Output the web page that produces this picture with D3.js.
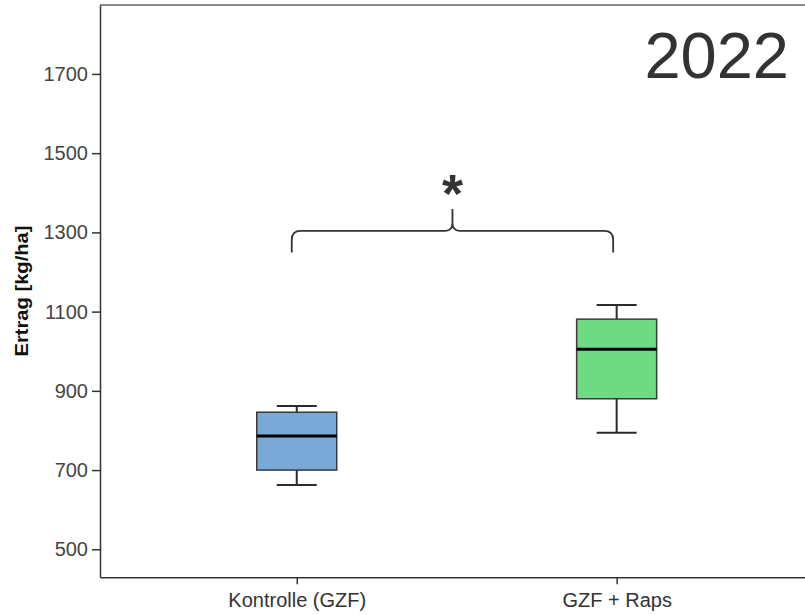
<!DOCTYPE html>
<html>
<head>
<meta charset="utf-8">
<script src="https://cdn.jsdelivr.net/npm/d3@7"></script>
<style>
  html, body { margin: 0; padding: 0; background: #fff; }
  svg { display: block; font-family: "Liberation Sans", Arial, sans-serif; }
</style>
</head>
<body>
<svg id="chart" width="805" height="615"></svg>
<script>
// Yield per treatment (kg/ha), year 2022
const groups = ["Kontrolle (GZF)", "GZF + Raps"];
const whiskerLow  = [662, 794];
const q1          = [700, 880];
const median      = [786, 1005];
const q3          = [846, 1081];
const whiskerHigh = [862, 1117];
const boxColors   = ["#79a9d6", "#6edb82"];
const yTicks      = [500, 700, 900, 1100, 1300, 1500, 1700];
// significance bracket: [arm ends, bar, tip] in kg/ha
const bracket     = [1249, 1304, 1359];
const yearLabel   = "2022";
const yLabel      = "Ertrag [kg/ha]";

const svg = d3.select("#chart");
const W = 805, H = 615;
const plot = { left: 100, top: 5, bottom: 577.3, right: 813.4 };

svg.append("rect").attr("width", W).attr("height", H).attr("fill", "#fff");

const x = d3.scalePoint().domain(groups).range([plot.left, plot.right]).padding(0.615);
const y = d3.scaleLinear().domain([429.3, 1874]).range([plot.bottom, plot.top]);

// frame: gray top border
svg.append("line")
  .attr("x1", plot.left).attr("x2", W).attr("y1", plot.top).attr("y2", plot.top)
  .attr("stroke", "#8a8a8a").attr("stroke-width", 2);

// y axis
const yAxis = svg.append("g")
  .attr("transform", `translate(${plot.left},0)`)
  .call(d3.axisLeft(y).tickValues(yTicks).tickSizeInner(8).tickSizeOuter(0)
    .tickPadding(4).tickFormat(d3.format("d")));
yAxis.select(".domain").attr("stroke", "#333").attr("stroke-width", 1.5);
yAxis.selectAll(".tick line").attr("stroke", "#333").attr("stroke-width", 1.5);
yAxis.selectAll(".tick text").attr("font-size", 20).attr("fill", "#444")
  .attr("font-family", "Liberation Sans, Arial, sans-serif");

// x axis
const xAxis = svg.append("g")
  .attr("transform", `translate(0,${plot.bottom})`)
  .call(d3.axisBottom(x).tickSizeInner(7).tickSizeOuter(0).tickPadding(9));
xAxis.select(".domain").attr("stroke", "#333").attr("stroke-width", 1.5);
xAxis.selectAll(".tick line").attr("stroke", "#333").attr("stroke-width", 1.5);
xAxis.selectAll(".tick text").attr("font-size", 20).attr("fill", "#333")
  .attr("font-family", "Liberation Sans, Arial, sans-serif");

// y label
svg.append("text")
  .attr("transform", `translate(28,${(225 + 357) / 2}) rotate(-90)`)
  .attr("text-anchor", "middle")
  .attr("font-size", 17.5).attr("font-weight", "bold").attr("fill", "#111")
  .attr("textLength", 131).attr("lengthAdjust", "spacingAndGlyphs")
  .text(yLabel);

// box plots
const boxW = 80, capW = 40;
const stroke = "#2b2b2b";
groups.forEach((g, i) => {
  const cx = x(g);
  const gg = svg.append("g");
  // whiskers
  gg.append("line").attr("x1", cx).attr("x2", cx)
    .attr("y1", y(q3[i])).attr("y2", y(whiskerHigh[i]))
    .attr("stroke", stroke).attr("stroke-width", 2);
  gg.append("line").attr("x1", cx).attr("x2", cx)
    .attr("y1", y(q1[i])).attr("y2", y(whiskerLow[i]))
    .attr("stroke", stroke).attr("stroke-width", 2);
  [whiskerHigh[i], whiskerLow[i]].forEach(v => {
    gg.append("line").attr("x1", cx - capW / 2).attr("x2", cx + capW / 2)
      .attr("y1", y(v)).attr("y2", y(v))
      .attr("stroke", stroke).attr("stroke-width", 2);
  });
  // box
  gg.append("rect")
    .attr("x", cx - boxW / 2).attr("width", boxW)
    .attr("y", y(q3[i])).attr("height", y(q1[i]) - y(q3[i]))
    .attr("fill", boxColors[i]).attr("stroke", "#3a3a3a").attr("stroke-width", 1.5);
  // median
  gg.append("line").attr("x1", cx - boxW / 2).attr("x2", cx + boxW / 2)
    .attr("y1", y(median[i])).attr("y2", y(median[i]))
    .attr("stroke", "#000").attr("stroke-width", 3);
});

// significance bracket
const xl = x(groups[0]) - 5, xr = x(groups[1]) - 3.5;
const xm = (xl + xr) / 2;
const yEnd = y(bracket[0]), yBar = y(bracket[1]), yTip = y(bracket[2]);
const r = 9;
const p = d3.path();
p.moveTo(xl, yEnd);
p.lineTo(xl, yBar + r);
p.quadraticCurveTo(xl, yBar, xl + r, yBar);
p.lineTo(xm - 7, yBar);
p.quadraticCurveTo(xm, yBar, xm, yBar - 8);
p.lineTo(xm, yTip);
p.moveTo(xm, yBar - 8);
p.quadraticCurveTo(xm, yBar, xm + 7, yBar);
p.lineTo(xr - r, yBar);
p.quadraticCurveTo(xr, yBar, xr, yBar + r);
p.lineTo(xr, yEnd);
svg.append("path").attr("d", p.toString())
  .attr("fill", "none").attr("stroke", "#333").attr("stroke-width", 1.8);

svg.append("text")
  .attr("x", xm).attr("y", yTip + 3)
  .attr("text-anchor", "middle")
  .attr("font-size", 54).attr("font-weight", "bold").attr("fill", "#333")
  .text("*");

// year label
svg.append("text")
  .attr("x", 789).attr("y", 78)
  .attr("text-anchor", "end")
  .attr("font-size", 65).attr("fill", "#333")
  .text(yearLabel);
</script>
</body>
</html>
